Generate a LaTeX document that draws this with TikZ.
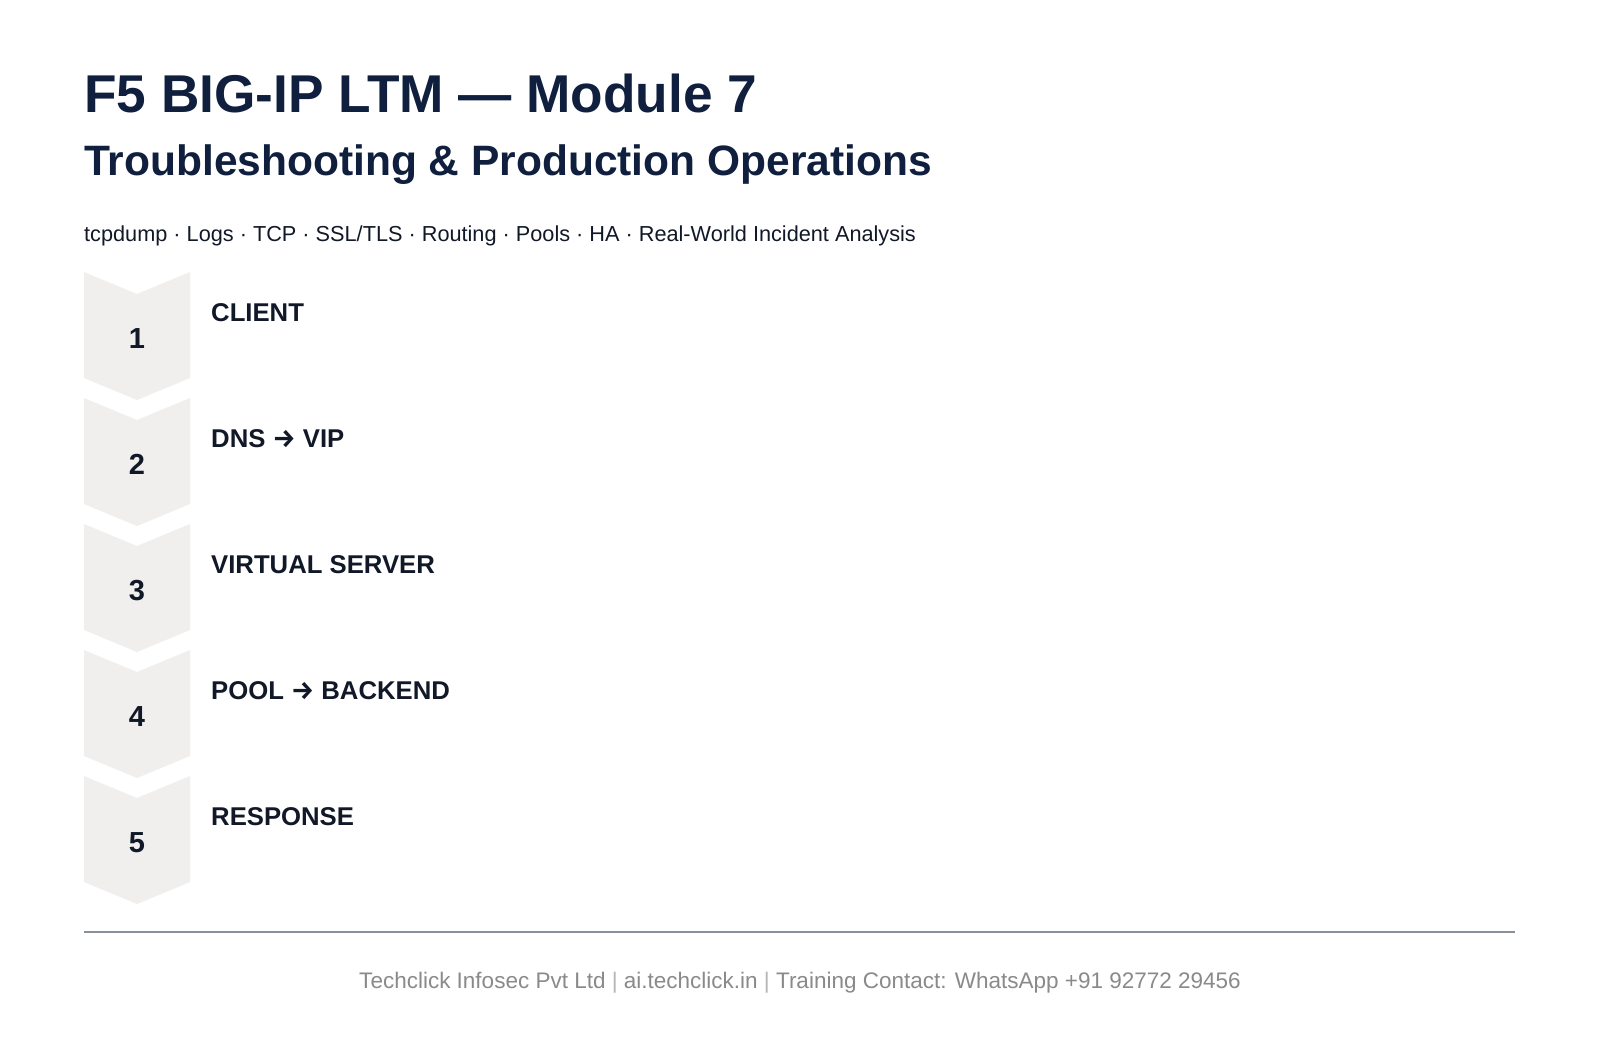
\documentclass[tikz,border=0pt]{standalone}
\usepackage{fontspec}
\setmainfont{Liberation Sans}
\newfontfamily\arrowfont{Fira Sans}
\newcommand{\rarr}{{\arrowfont\bfseries →}}
\definecolor{navy}{HTML}{0F1F3D}
\definecolor{ink}{HTML}{111827}
\definecolor{chev}{HTML}{F1EFEE}
\definecolor{rulegray}{HTML}{8A9099}
\definecolor{footgray}{HTML}{8A8A8A}
\definecolor{sepgray}{HTML}{B5B5B5}
\tikzset{
  chevshape/.style={fill=chev, draw=none},
  numtext/.style={anchor=base, inner sep=0pt, text=ink, font=\fontsize{29bp}{30bp}\selectfont\bfseries},
  steptext/.style={anchor=base west, inner sep=0pt, text=ink, font=\fontsize{25.7bp}{28bp}\selectfont\bfseries},
}
\begin{document}
\begin{tikzpicture}[x=1bp,y=-1bp]
\useasboundingbox[fill=white] (0,0) rectangle (1600,1056);
% titles
\node[anchor=base west, inner sep=0pt, text=navy, font=\fontsize{53.2bp}{60bp}\selectfont\bfseries] (title) at (84,112) {F5 BIG-IP LTM — Module 7};
\node[anchor=base west, inner sep=0pt, text=navy, font=\fontsize{42.5bp}{48bp}\selectfont\bfseries] (subtitle) at (84,175) {Troubleshooting \& Production Operations};
\node[anchor=base west, inner sep=0pt, text=ink, font=\fontsize{21.7bp}{23bp}\selectfont] (tagline) at (84,241) {tcpdump · Logs · TCP · SSL/TLS · Routing · Pools · HA · Real-World Incident Analysis};
% chevrons
\foreach \i/\lab in {0/CLIENT,1/DNS \rarr{} VIP,2/VIRTUAL SERVER,3/POOL \rarr{} BACKEND,4/RESPONSE}{
  \pgfmathsetmacro{\t}{272+126*\i}
  \fill[chevshape] (84,\t) -- (137,\t+22) -- (190,\t) -- (190,\t+106) -- (137,\t+128) -- (84,\t+106) -- cycle;
  \pgfmathtruncatemacro{\n}{\i+1}
  \node[numtext] (num\n) at (137,\t+76) {\n};
  \node[steptext] (step\n) at (211,\t+49) {\lab};
}
% rule
\coordinate (ruleL) at (84,932);
\coordinate (ruleR) at (1515,932);
\draw[rulegray, line width=2.5bp] (ruleL) -- (ruleR);
% footer
\node[anchor=base, inner sep=0pt, text=footgray, font=\fontsize{22.5bp}{24bp}\selectfont] (footer) at (800,988) {Techclick Infosec Pvt Ltd \textcolor{sepgray}{|} ai.techclick.in \textcolor{sepgray}{|} Training Contact: WhatsApp +91 92772 29456};
\end{tikzpicture}
\end{document}
